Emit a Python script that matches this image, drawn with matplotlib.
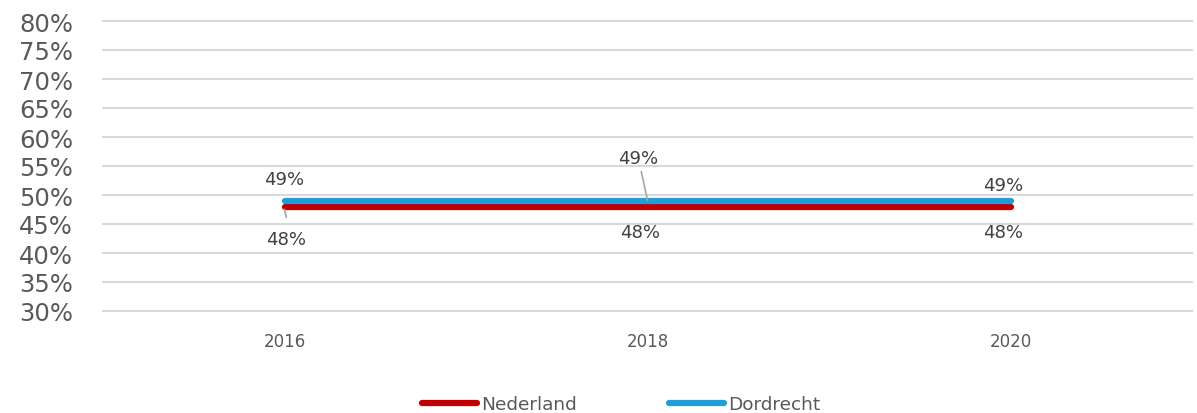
import matplotlib
matplotlib.use("Agg")
import matplotlib.pyplot as plt

years = ["2016", "2018", "2020"]
nederland = [48, 48, 48]
dordrecht = [49, 49, 49]
ned_labels = ["48%", "48%", "48%"]
dor_labels = ["49%", "49%", "49%"]
yticks = list(range(30, 81, 5))

plt.rcParams['font.family'] = ['DejaVu Sans']
fig = plt.figure(figsize=(11.97, 4.14), dpi=100)
ax = fig.add_axes([103/1197, 1-312/414, (1192-103)/1197, (312-22)/414])

x = list(range(len(years)))
red = "#c00000"
blue = "#1f9fd5"
ax.plot(x, nederland, color=red, lw=4.5, solid_capstyle="round", label="Nederland", zorder=3)
ax.plot(x, dordrecht, color=blue, lw=4.5, solid_capstyle="round", label="Dordrecht", zorder=3)

ax.set_xlim(-0.5, 2.5)
ax.set_ylim(30, 80)
ax.set_yticks(yticks)
ax.set_yticklabels([f"{v}%" for v in yticks], fontsize=17.5, color="#595959")
ax.set_xticks(x)
ax.set_xticklabels(years, fontsize=12, color="#595959")
ax.tick_params(axis="both", length=0)
ax.tick_params(axis="y", pad=21.5)
ax.tick_params(axis="x", pad=15)
ax.yaxis.grid(True, color="#d9d9d9", lw=1.5)
for gl in ax.get_ygridlines():
    gl.set_clip_on(False)
ax.set_axisbelow(True)
for s in ax.spines.values():
    s.set_visible(False)

lab_color = "#404040"
dor_off = [(0.0, 3.8), (-0.025, 7.3), (-0.02, 2.8)]
ned_off = [(0.005, -5.6), (-0.02, -4.3), (-0.02, -4.3)]
for i in x:
    dx, dy = dor_off[i]
    ax.text(i + dx, dordrecht[i] + dy, dor_labels[i], ha="center", va="center", fontsize=13, color=lab_color)
    dx, dy = ned_off[i]
    ax.text(i + dx, nederland[i] + dy, ned_labels[i], ha="center", va="center", fontsize=13, color=lab_color)

ax.plot([0, 0.005], [nederland[0] - 0.5, nederland[0] - 1.8], color="#a6a6a6", lw=1.2, zorder=4)
ax.plot([1, 0.983], [dordrecht[1] + 0.1, dordrecht[1] + 5.0], color="#a6a6a6", lw=1.2, zorder=4)

leg = fig.legend(loc="center", bbox_to_anchor=(621/1197, 1-405/414), ncol=2, frameon=False,
                 fontsize=13.3, handlelength=3.0, handletextpad=0.2, columnspacing=5.0)
for t in leg.get_texts():
    t.set_color("#595959")

fig.savefig("out.png", dpi=100)
